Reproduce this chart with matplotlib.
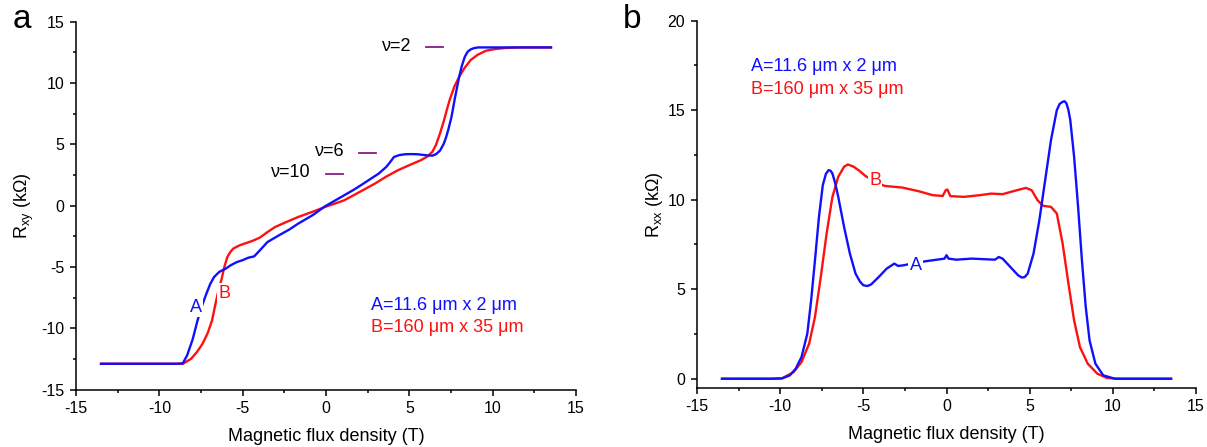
#!/usr/bin/env python3

import numpy as np
import matplotlib.pyplot as plt
from matplotlib.ticker import MultipleLocator

plt.rcParams['font.family'] = ['Liberation Sans', 'DejaVu Sans']
plt.rcParams['mathtext.fontset'] = 'custom'
plt.rcParams['mathtext.rm'] = 'Liberation Sans'
plt.rcParams['axes.unicode_minus'] = False

BLUE = '#1010ff'
RED = '#ff1010'

# paneeli a: Rxy (kOhm) vs B (T)
rxy_a_b = [-13.5, -12.0, -10.0, -9.0, -8.6, -8.33, -8.0, -7.71, -7.45, -7.18, -6.95,
           -6.72, -6.4, -6.03, -5.7, -5.34, -5.0, -4.66, -4.31, -3.97, -3.51,
           -2.82, -2.2, -1.67, -0.8, -0.06, 0.5, 1.09, 1.7, 2.24, 2.7, 3.16,
           3.62, 3.85, 4.08, 4.4, 4.77, 5.1, 5.46, 5.8, 6.15, 6.4, 6.61, 6.85,
           7.07, 7.2, 7.34, 7.53, 7.74, 7.99, 8.15, 8.33, 8.5, 8.68, 8.9, 9.14,
           10.0, 11.0, 12.0, 13.5]
rxy_a = [-12.9, -12.9, -12.9, -12.9, -12.88, -12.2, -10.9, -9.37, -8.2, -7.19, -6.4,
         -5.83, -5.4, -5.15, -4.85, -4.6, -4.45, -4.25, -4.14, -3.65, -2.97,
         -2.42, -1.95, -1.47, -0.78, -0.06, 0.38, 0.84, 1.32, 1.79, 2.2, 2.61,
         3.16, 3.55, 3.97, 4.12, 4.19, 4.2, 4.19, 4.14, 4.08, 4.08, 4.2, 4.5,
         5.06, 5.55, 6.2, 7.24, 8.8, 10.5, 11.4, 12.14, 12.55, 12.74, 12.85,
         12.9, 12.9, 12.9, 12.9, 12.9]

rxy_b_b = [-13.5, -12.0, -10.0, -9.0, -8.56, -8.1, -7.75, -7.41, -7.1, -6.84, -6.61,
           -6.45, -6.26, -6.1, -5.92, -5.75, -5.57, -5.2, -4.89, -4.4, -3.97,
           -3.5, -3.05, -2.4, -1.67, -0.8, -0.06, 0.5, 1.09, 2.0, 2.93, 3.6,
           4.31, 5.0, 5.69, 6.05, 6.38, 6.6, 6.84, 7.07, 7.3, 7.44, 7.7, 7.99,
           8.3, 8.68, 9.1, 9.6, 10.15, 10.75, 11.2, 11.67, 12.5, 13.5]
rxy_b = [-12.9, -12.9, -12.9, -12.9, -12.88, -12.5, -11.95, -11.27, -10.4, -9.37, -7.87,
         -6.9, -5.96, -5.0, -4.19, -3.8, -3.51, -3.25, -3.1, -2.87, -2.61,
         -2.15, -1.74, -1.35, -0.93, -0.5, -0.11, 0.15, 0.43, 1.1, 1.79, 2.35,
         2.88, 3.3, 3.7, 3.98, 4.38, 4.95, 5.88, 6.9, 8.06, 8.7, 9.7, 10.5,
         11.2, 11.87, 12.3, 12.63, 12.77, 12.85, 12.88, 12.9, 12.9, 12.9]

# paneeli b: Rxx (kOhm) vs B (T)
rxx_a_b = [-13.5, -12.0, -10.5, -9.88, -9.42, -9.07, -8.72, -8.37, -8.14, -7.91, -7.67,
           -7.44, -7.25, -7.09, -6.97, -6.86, -6.7, -6.51, -6.16, -5.81, -5.47,
           -5.2, -5.0, -4.75, -4.53, -4.07, -3.6, -3.14, -2.91, -2.56, -2.0,
           -1.28, -0.58, -0.12, 0.0, 0.12, 0.58, 1.51, 2.44, 2.91, 3.14, 3.37,
           3.84, 4.3, 4.53, 4.7, 4.88, 5.23, 5.58, 5.93, 6.28, 6.63, 6.8, 6.98,
           7.1, 7.21, 7.33, 7.44, 7.67, 7.91, 8.14, 8.37, 8.6, 8.95, 9.42, 10.12,
           11.5, 13.5]
rxx_a = [0.0, 0.0, 0.0, 0.02, 0.19, 0.56, 1.21, 2.52, 4.38, 6.62, 9.04,
         10.81, 11.45, 11.65, 11.62, 11.46, 10.95, 10.16, 8.48, 6.99, 5.87,
         5.42, 5.22, 5.18, 5.27, 5.69, 6.15, 6.43, 6.3, 6.34, 6.45,
         6.56, 6.65, 6.71, 6.9, 6.71, 6.65, 6.71, 6.67, 6.65, 6.8, 6.71,
         6.24, 5.78, 5.65, 5.68, 5.87, 6.99, 8.85, 11.09, 13.33, 15.0, 15.35, 15.47,
         15.5, 15.38, 15.0, 14.45, 12.4, 9.6, 6.62, 4.01, 2.14, 0.84, 0.19, 0.0,
         0.0, 0.0]

rxx_b_b = [-13.5, -12.0, -10.5, -9.9, -9.19, -8.72, -8.26, -7.91, -7.56, -7.21, -6.86,
           -6.51, -6.16, -5.93, -5.58, -5.23, -4.88, -4.3, -3.72, -2.67, -1.74,
           -0.81, -0.23, -0.05, 0.05, 0.23, 1.05, 1.98, 2.67, 3.37, 4.07, 4.77,
           5.12, 5.47, 5.81, 6.28, 6.63, 6.98, 7.33, 7.67, 8.02, 8.49, 9.07, 9.65,
           10.35, 11.5, 13.5]
rxx_b = [0.0, 0.0, 0.0, 0.02, 0.37, 0.93, 1.96, 3.45, 5.69, 8.11, 10.16,
         11.28, 11.84, 11.97, 11.84, 11.61, 11.33, 11.0, 10.77, 10.68, 10.49,
         10.25, 10.21, 10.53, 10.57, 10.2, 10.16, 10.25, 10.34, 10.31, 10.49, 10.66,
         10.53, 9.97, 9.66, 9.6, 9.23, 7.55, 5.31, 3.26, 1.77, 0.84, 0.28, 0.04,
         0.0, 0.0, 0.0]

# nu-tasot (h/(nu e^2))
nu_labels = ['ν=2', 'ν=6', 'ν=10']
nu_levels = [12.9, 4.3, 2.58]
nu_starts = [6.0, 2.0, 0.0]

legend_a = 'A=11.6 μm x 2 μm'
legend_b = 'B=160 μm x 35 μm'


def style_axes(ax, ymin, ymax):
    for side in ['top', 'right']:
        ax.spines[side].set_visible(False)
    for side in ['left', 'bottom']:
        ax.spines[side].set_linewidth(1.1)
    ax.set_xlim(-15, 15)
    ax.set_ylim(ymin, ymax)
    ax.xaxis.set_major_locator(MultipleLocator(5))
    ax.xaxis.set_minor_locator(MultipleLocator(2.5))
    ax.yaxis.set_major_locator(MultipleLocator(5))
    ax.yaxis.set_minor_locator(MultipleLocator(2.5))
    ax.tick_params(which='major', direction='out', length=4.5, width=1.1,
                   labelsize=11.5, pad=4)
    ax.tick_params(which='minor', direction='out', length=2.5, width=1.1)
    ax.set_xlabel('Magnetic flux density (T)', fontsize=13)
    ax.xaxis.set_label_coords(0.5, -0.105)


def curve_label(ax, x, y, s, color):
    ax.text(x, y, s, color=color, fontsize=13, ha='center', va='center',
            zorder=5, bbox=dict(facecolor='white', edgecolor='none', pad=1.0))


def main():
    fig = plt.figure(figsize=(12.07, 4.47), dpi=100)
    ax1 = fig.add_axes([0.063, 0.1286, 0.4142, 0.8229])
    ax2 = fig.add_axes([0.5775, 0.1327, 0.4134, 0.8210])

    # a
    ax1.plot(rxy_b_b, rxy_b, color=RED, lw=1.7, zorder=2)
    ax1.plot(rxy_a_b, rxy_a, color=BLUE, lw=1.7, zorder=3)
    style_axes(ax1, -15, 15)
    ax1.set_ylabel('R$_{\\mathregular{xy}}$ (kΩ)', fontsize=13)
    ax1.yaxis.set_label_coords(-0.08, 0.5)
    curve_label(ax1, -7.83, -8.28, 'A', BLUE)
    curve_label(ax1, -6.1, -7.13, 'B', RED)
    for s, lev, x0 in zip(nu_labels, nu_levels, nu_starts):
        ax1.plot([x0, x0 + 1.0], [lev, lev], color='#8a1a8a', lw=1.3)
        ax1.text(x0 - 0.9, lev + 0.1, s, fontsize=13, ha='right', va='center')
    ax1.text(2.7, -8.14, legend_a, color=BLUE, fontsize=13, va='center')
    ax1.text(2.7, -9.96, legend_b, color=RED, fontsize=13, va='center')

    # b
    ax2.plot(rxx_b_b, rxx_b, color=RED, lw=1.7, zorder=2)
    ax2.plot(rxx_a_b, rxx_a, color=BLUE, lw=1.7, zorder=3)
    style_axes(ax2, -0.5, 20)
    ax2.set_ylabel('R$_{\\mathregular{xx}}$ (kΩ)', fontsize=13)
    ax2.yaxis.set_label_coords(-0.065, 0.5)
    curve_label(ax2, -1.86, 6.34, 'A', BLUE)
    curve_label(ax2, -4.3, 11.09, 'B', RED)
    ax2.text(-11.74, 17.43, legend_a, color=BLUE, fontsize=13, va='center')
    ax2.text(-11.74, 16.16, legend_b, color=RED, fontsize=13, va='center')

    fig.text(13 / 1207, 1 - 28 / 447, 'a', fontsize=24, va='baseline')
    fig.text(623 / 1207, 1 - 28 / 447, 'b', fontsize=24, va='baseline')

    fig.savefig('out.png', dpi=100)


if __name__ == "__main__":
    main()
